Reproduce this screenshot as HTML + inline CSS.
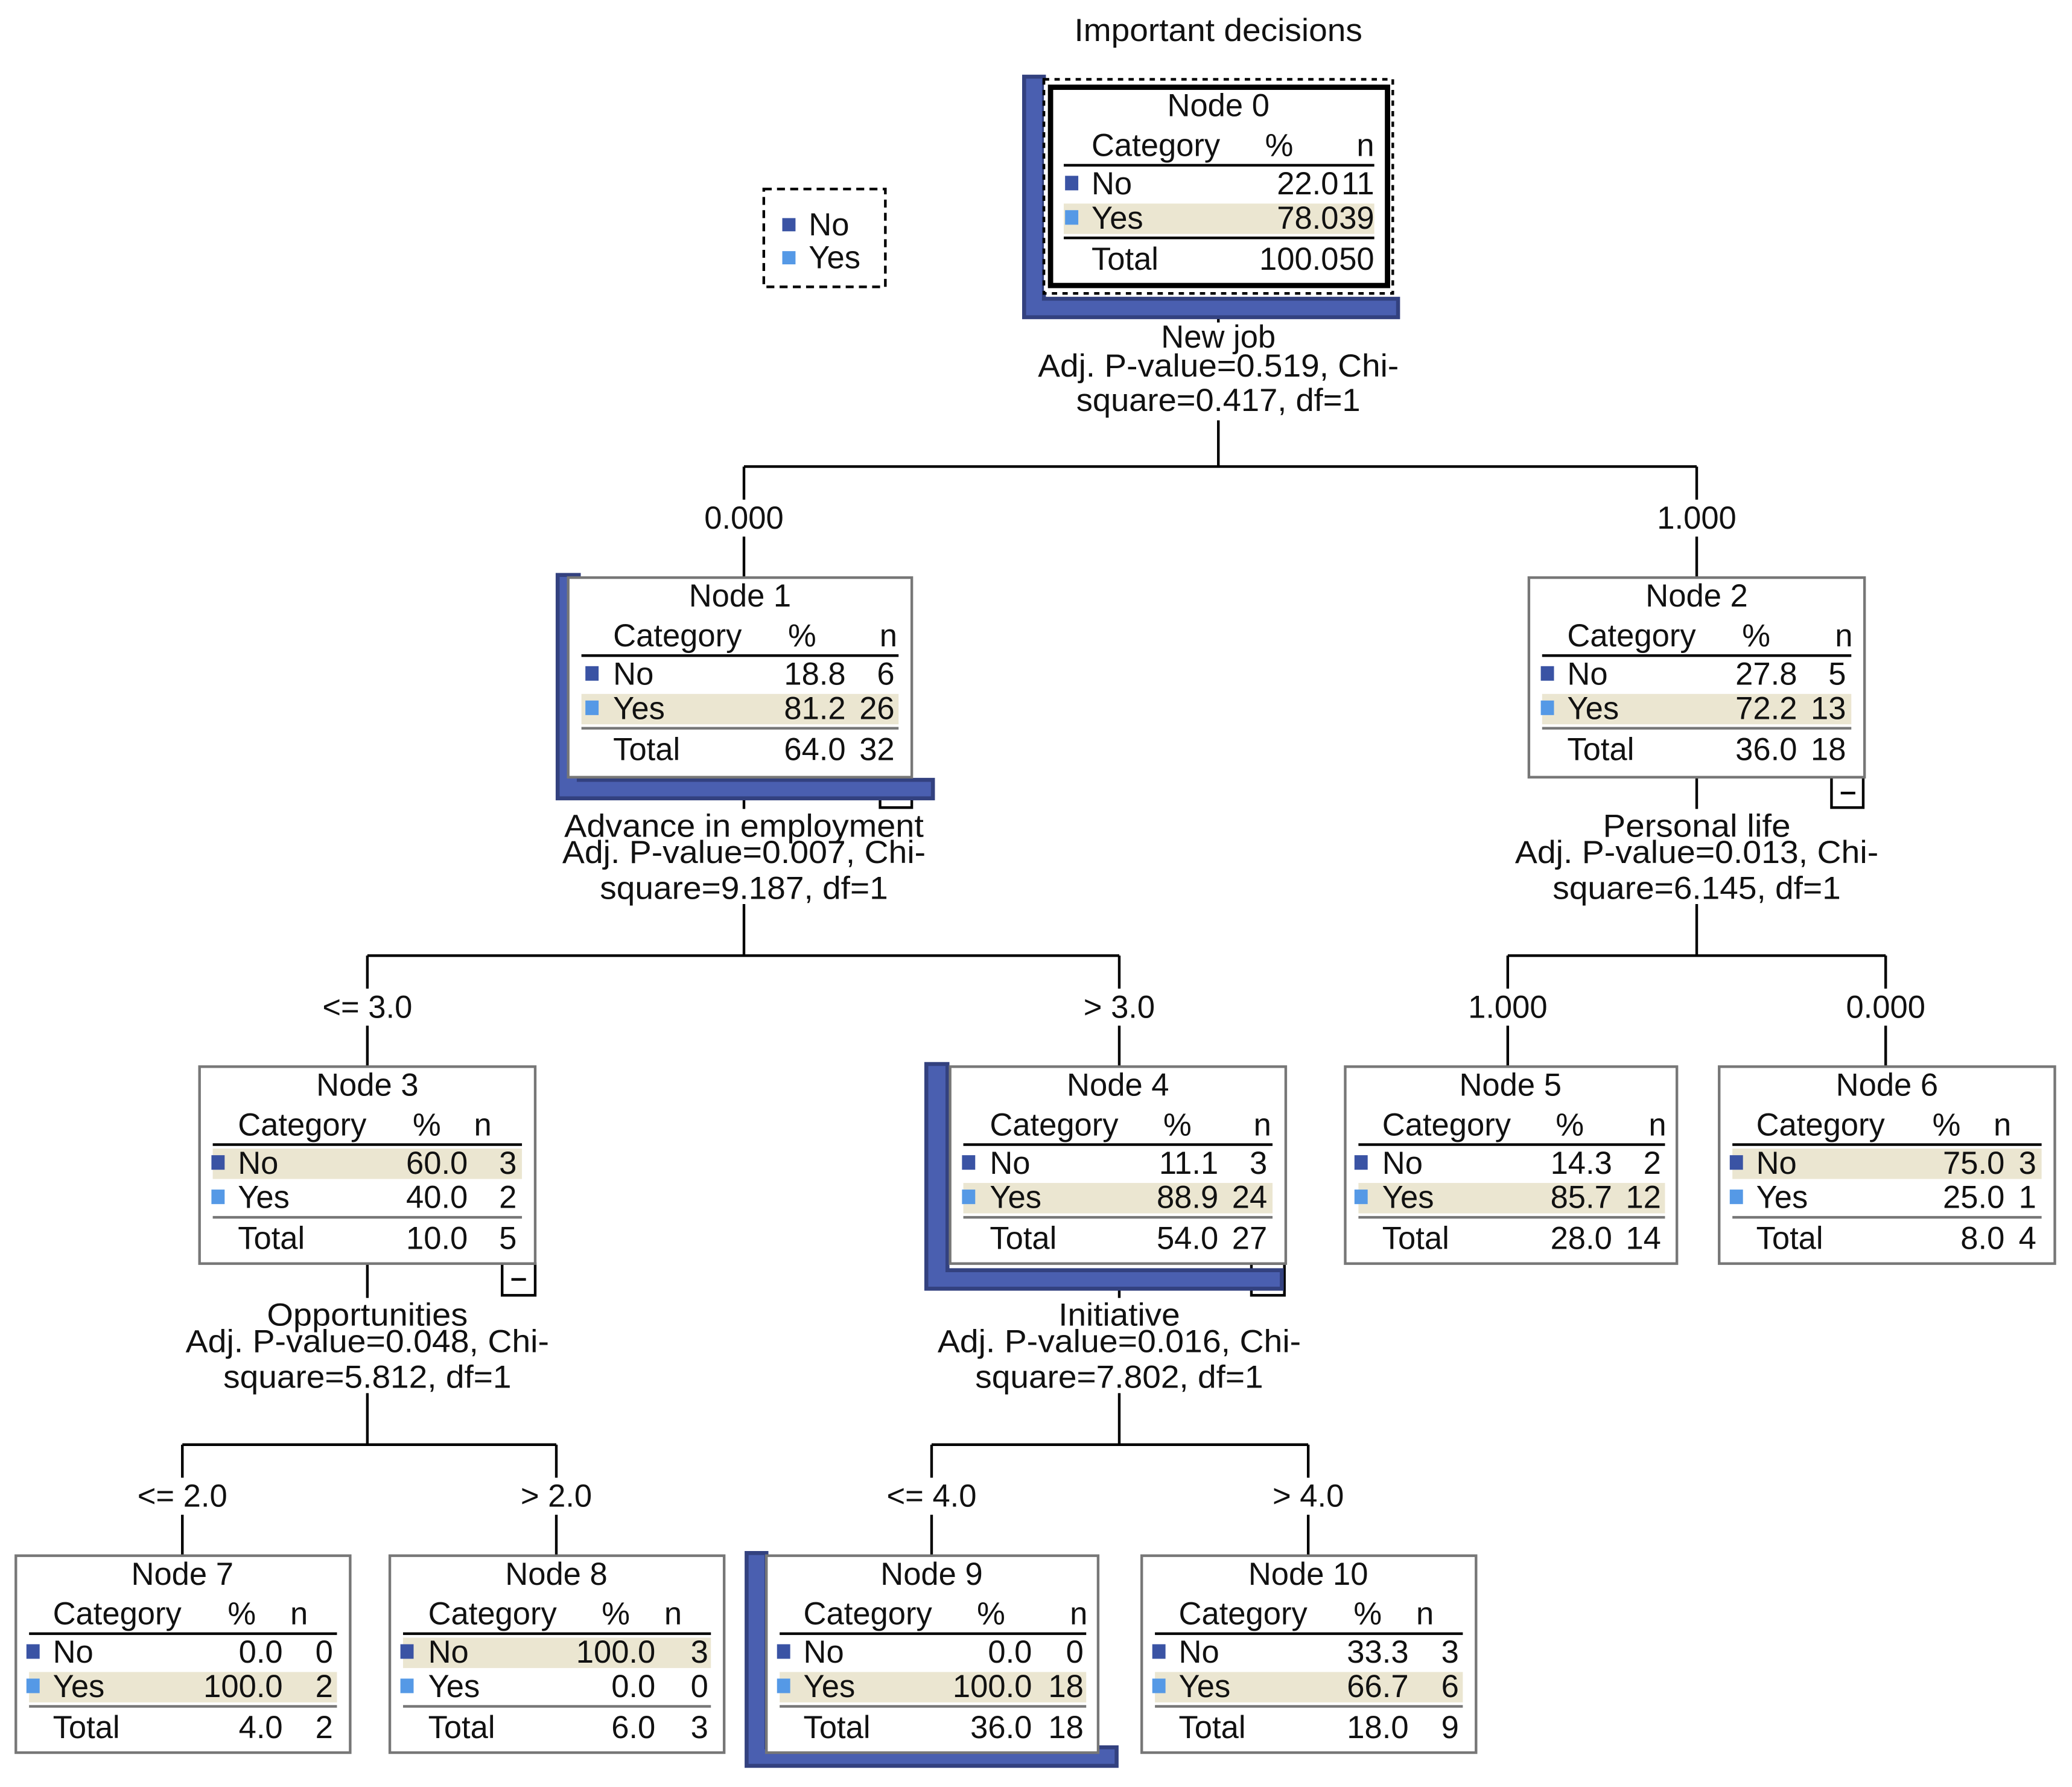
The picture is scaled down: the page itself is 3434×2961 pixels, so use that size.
<!DOCTYPE html>
<html><head><meta charset="utf-8"><style>
html,body{margin:0;padding:0;background:#fff;}
svg{display:block;}
text{font-family:"Liberation Sans",Arial,sans-serif;font-size:24px;fill:#111;}
.c{text-anchor:middle;}
.e{text-anchor:end;}
.box{fill:#fff;stroke:#777;stroke-width:2;}
.hl{stroke:#000;stroke-width:2;}
.gl{stroke:#777;stroke-width:2;}
.band{fill:#ebe6d1;}
.no{fill:#3a53a4;}
.yes{fill:#5599e6;}
.cn{stroke:#000;stroke-width:2;fill:none;}
.sh{fill:#4a5fb0;stroke:#33417f;stroke-width:3;}
.ic{fill:#fff;stroke:#000;stroke-width:2;}
</style></head><body>
<svg width="3434" height="2961" viewBox="0 0 1568 1352" xmlns="http://www.w3.org/2000/svg">
<rect width="1568" height="1352" fill="#fff"/>
<text x="922" y="31" class="c" textLength="218" lengthAdjust="spacingAndGlyphs">Important decisions</text>

<!-- legend -->
<rect x="578" y="143" width="92" height="74" fill="none" stroke="#000" stroke-width="2" stroke-dasharray="6,4"/>
<rect x="592" y="165" width="10" height="10" class="no"/>
<text x="612" y="178">No</text>
<rect x="592" y="190" width="10" height="10" class="yes"/>
<text x="612" y="203">Yes</text>

<!-- connectors -->
<path class="cn" d="M922,240V244 M922,318V353 M563,353H1284 M563,353V378 M563,406V437 M1284,353V378 M1284,406V437"/>
<path class="cn" d="M563,604V612 M563,684V723 M278,723H847 M278,723V748 M278,776V807 M847,723V748 M847,776V807"/>
<path class="cn" d="M1284,588V612 M1284,684V723 M1141,723H1427 M1141,723V748 M1141,776V807 M1427,723V748 M1427,776V807"/>
<path class="cn" d="M278,956V982 M278,1054V1093 M138,1093H421 M138,1093V1118 M138,1146V1177 M421,1093V1118 M421,1146V1177"/>
<path class="cn" d="M847,975V982 M847,1054V1093 M705,1093H990 M705,1093V1118 M705,1146V1177 M990,1093V1118 M990,1146V1177"/>

<!-- branch labels -->
<text x="563" y="400" class="c">0.000</text>
<text x="1284" y="400" class="c">1.000</text>
<text x="278" y="770" class="c">&lt;= 3.0</text>
<text x="847" y="770" class="c">&gt; 3.0</text>
<text x="1141" y="770" class="c">1.000</text>
<text x="1427" y="770" class="c">0.000</text>
<text x="138" y="1140" class="c">&lt;= 2.0</text>
<text x="421" y="1140" class="c">&gt; 2.0</text>
<text x="705" y="1140" class="c">&lt;= 4.0</text>
<text x="990" y="1140" class="c">&gt; 4.0</text>

<!-- split labels -->
<text x="922" y="263" class="c">New job</text>
<text x="922" y="285" class="c" textLength="273" lengthAdjust="spacingAndGlyphs">Adj. P-value=0.519, Chi-</text>
<text x="922" y="311" class="c" textLength="215" lengthAdjust="spacingAndGlyphs">square=0.417, df=1</text>

<text x="563" y="633" class="c" textLength="272" lengthAdjust="spacingAndGlyphs">Advance in employment</text>
<text x="563" y="653" class="c" textLength="275" lengthAdjust="spacingAndGlyphs">Adj. P-value=0.007, Chi-</text>
<text x="563" y="680" class="c" textLength="218" lengthAdjust="spacingAndGlyphs">square=9.187, df=1</text>

<text x="1284" y="633" class="c" textLength="142" lengthAdjust="spacingAndGlyphs">Personal life</text>
<text x="1284" y="653" class="c" textLength="275" lengthAdjust="spacingAndGlyphs">Adj. P-value=0.013, Chi-</text>
<text x="1284" y="680" class="c" textLength="218" lengthAdjust="spacingAndGlyphs">square=6.145, df=1</text>

<text x="278" y="1003" class="c" textLength="152" lengthAdjust="spacingAndGlyphs">Opportunities</text>
<text x="278" y="1023" class="c" textLength="275" lengthAdjust="spacingAndGlyphs">Adj. P-value=0.048, Chi-</text>
<text x="278" y="1050" class="c" textLength="218" lengthAdjust="spacingAndGlyphs">square=5.812, df=1</text>

<text x="847" y="1003" class="c" textLength="92" lengthAdjust="spacingAndGlyphs">Initiative</text>
<text x="847" y="1023" class="c" textLength="275" lengthAdjust="spacingAndGlyphs">Adj. P-value=0.016, Chi-</text>
<text x="847" y="1050" class="c" textLength="218" lengthAdjust="spacingAndGlyphs">square=7.802, df=1</text>

<!-- collapse icons -->
<g class="ic">
<rect x="1025" y="226" width="25" height="14"/>
<rect x="666" y="596" width="24" height="15"/>
<rect x="1386" y="588" width="24" height="23"/>
<rect x="380" y="956" width="25" height="24"/>
<rect x="947" y="956" width="25" height="24"/>
</g>
<path d="M1393,600H1404 M387,968H398" stroke="#000" stroke-width="2"/>

<!-- shadows -->
<path class="sh" d="M775,58H790V226H1058V240H775Z"/>
<path class="sh" d="M422,435H438V590H706V604H422Z"/>
<path class="sh" d="M701,805H717V961H970V975H701Z"/>
<path class="sh" d="M565,1175H580V1322H845V1336H565Z"/>

<!-- Node 0 -->
<rect x="790" y="60" width="264" height="162" fill="#fff" stroke="#000" stroke-width="2" stroke-dasharray="4,4"/>
<g transform="translate(795,66)">
<rect width="255" height="150" fill="#fff" stroke="#000" stroke-width="4"/>
<text x="127" y="22" class="c">Node 0</text>
<text x="31" y="52">Category</text><text x="173" y="52" class="c">%</text><text x="245" y="52" class="e">n</text>
<line x1="10" x2="245" y1="59" y2="59" class="hl"/>
<rect x="11" y="67" width="10" height="11" class="no"/>
<text x="31" y="81">No</text><text x="218" y="81" class="e">22.0</text><text x="245" y="81" class="e">11</text>
<rect x="10" y="88" width="235" height="23" class="band"/>
<rect x="11" y="93" width="10" height="11" class="yes"/>
<text x="31" y="107">Yes</text><text x="218" y="107" class="e">78.0</text><text x="245" y="107" class="e">39</text>
<line x1="10" x2="245" y1="114" y2="114" class="hl"/>
<text x="31" y="138">Total</text><text x="218" y="138" class="e">100.0</text><text x="245" y="138" class="e">50</text>
</g>

<!-- Node 1 -->
<g transform="translate(430,437)">
<rect width="260" height="151" class="box"/>
<text x="130" y="22" class="c">Node 1</text>
<text x="34" y="52">Category</text><text x="177" y="52" class="c">%</text><text x="249" y="52" class="e">n</text>
<line x1="10" x2="250" y1="59" y2="59" class="hl"/>
<rect x="13" y="67" width="10" height="11" class="no"/>
<text x="34" y="81">No</text><text x="210" y="81" class="e">18.8</text><text x="247" y="81" class="e">6</text>
<rect x="10" y="88" width="240" height="23" class="band"/>
<rect x="13" y="93" width="10" height="11" class="yes"/>
<text x="34" y="107">Yes</text><text x="210" y="107" class="e">81.2</text><text x="247" y="107" class="e">26</text>
<line x1="10" x2="250" y1="114" y2="114" class="gl"/>
<text x="34" y="138">Total</text><text x="210" y="138" class="e">64.0</text><text x="247" y="138" class="e">32</text>
</g>

<!-- Node 2 -->
<g transform="translate(1157,437)">
<rect width="254" height="151" class="box"/>
<text x="127" y="22" class="c">Node 2</text>
<text x="29" y="52">Category</text><text x="172" y="52" class="c">%</text><text x="245" y="52" class="e">n</text>
<line x1="10" x2="244" y1="59" y2="59" class="hl"/>
<rect x="9" y="67" width="10" height="11" class="no"/>
<text x="29" y="81">No</text><text x="203" y="81" class="e">27.8</text><text x="240" y="81" class="e">5</text>
<rect x="10" y="88" width="234" height="23" class="band"/>
<rect x="9" y="93" width="10" height="11" class="yes"/>
<text x="29" y="107">Yes</text><text x="203" y="107" class="e">72.2</text><text x="240" y="107" class="e">13</text>
<line x1="10" x2="244" y1="114" y2="114" class="gl"/>
<text x="29" y="138">Total</text><text x="203" y="138" class="e">36.0</text><text x="240" y="138" class="e">18</text>
</g>

<!-- Node 3 -->
<g transform="translate(151,807)">
<rect width="254" height="149" class="box"/>
<text x="127" y="22" class="c">Node 3</text>
<text x="29" y="52">Category</text><text x="172" y="52" class="c">%</text><text x="221" y="52" class="e">n</text>
<line x1="10" x2="244" y1="59" y2="59" class="hl"/>
<rect x="10" y="62" width="234" height="23" class="band"/>
<rect x="9" y="67" width="10" height="11" class="no"/>
<text x="29" y="81">No</text><text x="203" y="81" class="e">60.0</text><text x="240" y="81" class="e">3</text>
<rect x="9" y="93" width="10" height="11" class="yes"/>
<text x="29" y="107">Yes</text><text x="203" y="107" class="e">40.0</text><text x="240" y="107" class="e">2</text>
<line x1="10" x2="244" y1="114" y2="114" class="gl"/>
<text x="29" y="138">Total</text><text x="203" y="138" class="e">10.0</text><text x="240" y="138" class="e">5</text>
</g>

<!-- Node 4 -->
<g transform="translate(719,807)">
<rect width="254" height="149" class="box"/>
<text x="127" y="22" class="c">Node 4</text>
<text x="30" y="52">Category</text><text x="172" y="52" class="c">%</text><text x="243" y="52" class="e">n</text>
<line x1="10" x2="244" y1="59" y2="59" class="hl"/>
<rect x="9" y="67" width="10" height="11" class="no"/>
<text x="30" y="81">No</text><text x="203" y="81" class="e">11.1</text><text x="240" y="81" class="e">3</text>
<rect x="10" y="88" width="234" height="23" class="band"/>
<rect x="9" y="93" width="10" height="11" class="yes"/>
<text x="30" y="107">Yes</text><text x="203" y="107" class="e">88.9</text><text x="240" y="107" class="e">24</text>
<line x1="10" x2="244" y1="114" y2="114" class="gl"/>
<text x="30" y="138">Total</text><text x="203" y="138" class="e">54.0</text><text x="240" y="138" class="e">27</text>
</g>

<!-- Node 5 -->
<g transform="translate(1018,807)">
<rect width="251" height="149" class="box"/>
<text x="125" y="22" class="c">Node 5</text>
<text x="28" y="52">Category</text><text x="170" y="52" class="c">%</text><text x="243" y="52" class="e">n</text>
<line x1="10" x2="242" y1="59" y2="59" class="hl"/>
<rect x="7" y="67" width="10" height="11" class="no"/>
<text x="28" y="81">No</text><text x="202" y="81" class="e">14.3</text><text x="239" y="81" class="e">2</text>
<rect x="10" y="88" width="232" height="23" class="band"/>
<rect x="7" y="93" width="10" height="11" class="yes"/>
<text x="28" y="107">Yes</text><text x="202" y="107" class="e">85.7</text><text x="239" y="107" class="e">12</text>
<line x1="10" x2="242" y1="114" y2="114" class="gl"/>
<text x="28" y="138">Total</text><text x="202" y="138" class="e">28.0</text><text x="239" y="138" class="e">14</text>
</g>

<!-- Node 6 -->
<g transform="translate(1301,807)">
<rect width="254" height="149" class="box"/>
<text x="127" y="22" class="c">Node 6</text>
<text x="28" y="52">Category</text><text x="172" y="52" class="c">%</text><text x="221" y="52" class="e">n</text>
<line x1="10" x2="244" y1="59" y2="59" class="hl"/>
<rect x="10" y="62" width="234" height="23" class="band"/>
<rect x="8" y="67" width="10" height="11" class="no"/>
<text x="28" y="81">No</text><text x="216" y="81" class="e">75.0</text><text x="240" y="81" class="e">3</text>
<rect x="8" y="93" width="10" height="11" class="yes"/>
<text x="28" y="107">Yes</text><text x="216" y="107" class="e">25.0</text><text x="240" y="107" class="e">1</text>
<line x1="10" x2="244" y1="114" y2="114" class="gl"/>
<text x="28" y="138">Total</text><text x="216" y="138" class="e">8.0</text><text x="240" y="138" class="e">4</text>
</g>

<!-- Node 7 -->
<g transform="translate(12,1177)">
<rect width="253" height="149" class="box"/>
<text x="126" y="22" class="c">Node 7</text>
<text x="28" y="52">Category</text><text x="171" y="52" class="c">%</text><text x="221" y="52" class="e">n</text>
<line x1="10" x2="243" y1="59" y2="59" class="hl"/>
<rect x="8" y="67" width="10" height="11" class="no"/>
<text x="28" y="81">No</text><text x="202" y="81" class="e">0.0</text><text x="240" y="81" class="e">0</text>
<rect x="10" y="88" width="233" height="23" class="band"/>
<rect x="8" y="93" width="10" height="11" class="yes"/>
<text x="28" y="107">Yes</text><text x="202" y="107" class="e">100.0</text><text x="240" y="107" class="e">2</text>
<line x1="10" x2="243" y1="114" y2="114" class="gl"/>
<text x="28" y="138">Total</text><text x="202" y="138" class="e">4.0</text><text x="240" y="138" class="e">2</text>
</g>

<!-- Node 8 -->
<g transform="translate(295,1177)">
<rect width="253" height="149" class="box"/>
<text x="126" y="22" class="c">Node 8</text>
<text x="29" y="52">Category</text><text x="171" y="52" class="c">%</text><text x="221" y="52" class="e">n</text>
<line x1="10" x2="243" y1="59" y2="59" class="hl"/>
<rect x="10" y="62" width="233" height="23" class="band"/>
<rect x="8" y="67" width="10" height="11" class="no"/>
<text x="29" y="81">No</text><text x="201" y="81" class="e">100.0</text><text x="241" y="81" class="e">3</text>
<rect x="8" y="93" width="10" height="11" class="yes"/>
<text x="29" y="107">Yes</text><text x="201" y="107" class="e">0.0</text><text x="241" y="107" class="e">0</text>
<line x1="10" x2="243" y1="114" y2="114" class="gl"/>
<text x="29" y="138">Total</text><text x="201" y="138" class="e">6.0</text><text x="241" y="138" class="e">3</text>
</g>

<!-- Node 9 -->
<g transform="translate(580,1177)">
<rect width="251" height="149" class="box"/>
<text x="125" y="22" class="c">Node 9</text>
<text x="28" y="52">Category</text><text x="170" y="52" class="c">%</text><text x="243" y="52" class="e">n</text>
<line x1="10" x2="242" y1="59" y2="59" class="hl"/>
<rect x="8" y="67" width="10" height="11" class="no"/>
<text x="28" y="81">No</text><text x="201" y="81" class="e">0.0</text><text x="240" y="81" class="e">0</text>
<rect x="10" y="88" width="232" height="23" class="band"/>
<rect x="8" y="93" width="10" height="11" class="yes"/>
<text x="28" y="107">Yes</text><text x="201" y="107" class="e">100.0</text><text x="240" y="107" class="e">18</text>
<line x1="10" x2="242" y1="114" y2="114" class="gl"/>
<text x="28" y="138">Total</text><text x="201" y="138" class="e">36.0</text><text x="240" y="138" class="e">18</text>
</g>

<!-- Node 10 -->
<g transform="translate(864,1177)">
<rect width="253" height="149" class="box"/>
<text x="126" y="22" class="c">Node 10</text>
<text x="28" y="52">Category</text><text x="171" y="52" class="c">%</text><text x="221" y="52" class="e">n</text>
<line x1="10" x2="243" y1="59" y2="59" class="hl"/>
<rect x="8" y="67" width="10" height="11" class="no"/>
<text x="28" y="81">No</text><text x="202" y="81" class="e">33.3</text><text x="240" y="81" class="e">3</text>
<rect x="10" y="88" width="233" height="23" class="band"/>
<rect x="8" y="93" width="10" height="11" class="yes"/>
<text x="28" y="107">Yes</text><text x="202" y="107" class="e">66.7</text><text x="240" y="107" class="e">6</text>
<line x1="10" x2="243" y1="114" y2="114" class="gl"/>
<text x="28" y="138">Total</text><text x="202" y="138" class="e">18.0</text><text x="240" y="138" class="e">9</text>
</g>
</svg>
</body></html>
